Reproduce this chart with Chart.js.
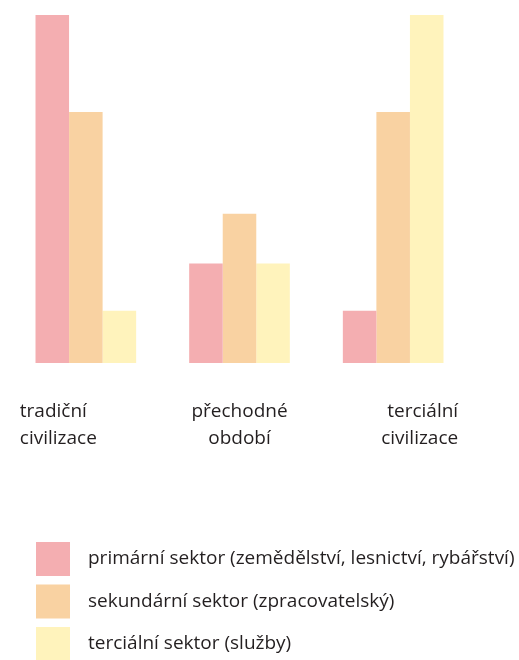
<!DOCTYPE html>
<html>
<head>
<meta charset="utf-8">
<script src="https://cdn.jsdelivr.net/npm/chart.js@4/dist/chart.umd.min.js"></script>
<style>
  html, body { margin: 0; padding: 0; background: #fff; }
  #wrap { width: 519px; height: 660px; }
</style>
</head>
<body>
<div id="wrap"><canvas id="myChart"></canvas></div>
<script>
'use strict';

// DATA
const categories = [
  ['tradiční', 'civilizace'],
  ['přechodné', 'období'],
  ['terciální', 'civilizace'],
];
const primaryValues = [7, 2, 1.05];
const secondaryValues = [5.05, 3, 5.05];
const tertiaryValues = [1.05, 2, 7];
const seriesLabels = [
  'primární sektor (zemědělství, lesnictví, rybářství)',
  'sekundární sektor (zpracovatelský)',
  'terciální sektor (služby)',
];
const yMax = 7;

const colors = ['#F4AEB1', '#F9D2A2', '#FFF3BC'];
const fontFamily = "'Open Sans', 'Noto Sans', sans-serif";
const fontSize = 19;

// category labels: left / centered / right like the original figure
const categoryLabels = {
  id: 'categoryLabels',
  afterDraw(chart) {
    const ctx = chart.ctx;
    const xScale = chart.scales.x;
    const aligns = ['left', 'center', 'right'];
    const offsets = [-66, 0, 65];
    ctx.save();
    ctx.font = fontSize + 'px ' + fontFamily;
    ctx.fillStyle = '#231f20';
    ctx.textBaseline = 'alphabetic';
    categories.forEach(function (lines, i) {
      const x = xScale.getPixelForValue(i) + offsets[i];
      ctx.textAlign = aligns[i];
      lines.forEach(function (line, j) {
        ctx.fillText(line, x, chart.chartArea.bottom + 54 + j * 27);
      });
    });
    ctx.restore();
  },
};

// legend with big squares
const bigLegend = {
  id: 'bigLegend',
  afterDraw(chart) {
    const ctx = chart.ctx;
    ctx.save();
    ctx.font = fontSize + 'px ' + fontFamily;
    ctx.textBaseline = 'middle';
    ctx.textAlign = 'left';
    chart.data.datasets.forEach(function (ds, i) {
      const top = 542 + i * 42.5;
      ctx.fillStyle = ds.backgroundColor;
      ctx.fillRect(36, top, 34, 34);
      ctx.fillStyle = '#231f20';
      ctx.fillText(ds.label, 88, top + 17);
    });
    ctx.restore();
  },
};

const ctx = document.getElementById('myChart').getContext('2d');

const chart = new Chart(ctx, {
  type: 'bar',
  data: {
    labels: categories,
    datasets: [
      {
        label: seriesLabels[0],
        backgroundColor: colors[0],
        data: primaryValues,
      },
      {
        label: seriesLabels[1],
        backgroundColor: colors[1],
        data: secondaryValues,
      },
      {
        label: seriesLabels[2],
        backgroundColor: colors[2],
        data: tertiaryValues,
      },
    ],
  },
  options: {
    responsive: true,
    maintainAspectRatio: false,
    animation: false,
    layout: {
      padding: { top: 15, left: 9, right: 49, bottom: 297 },
    },
    datasets: {
      bar: {
        categoryPercentage: 0.655,
        barPercentage: 1,
      },
    },
    scales: {
      x: { display: false },
      y: { display: false, min: 0, max: yMax },
    },
    plugins: {
      legend: { display: false },
      tooltip: { enabled: false },
    },
  },
  plugins: [categoryLabels, bigLegend],
});
</script>
</body>
</html>
